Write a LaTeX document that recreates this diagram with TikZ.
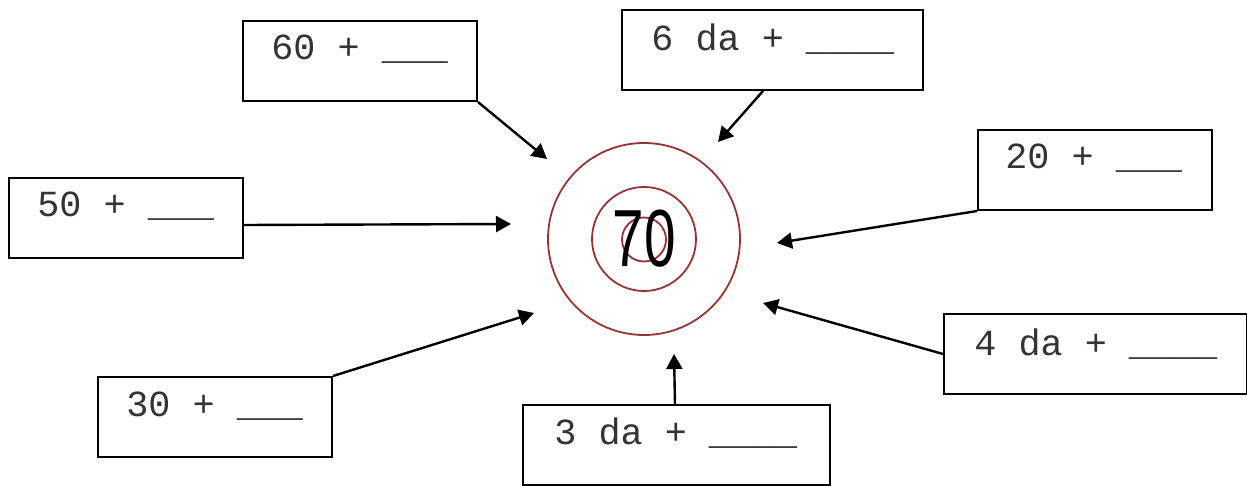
\documentclass[tikz,border=0pt]{standalone}
\usepackage{fontspec}
\setmainfont{Liberation Sans}
\newfontfamily\boxfont{Liberation Mono}
\usetikzlibrary{arrows.meta}
\definecolor{ringred}{HTML}{993333}
\tikzset{
  box/.style={draw=black, line width=1pt, rectangle, inner sep=0pt, anchor=north west, minimum height=40pt},
  boxtext/.style={anchor=base west, inner sep=0pt, font=\boxfont\fontsize{18.4pt}{20pt}\selectfont, text=black!80},
  arr/.style={draw=black, line width=1.2pt, -{Triangle[length=7.5pt,width=8pt]}},
  ring/.style={draw=ringred, line width=0.9pt},
}
\begin{document}
\begin{tikzpicture}[x=0.5pt,y=-0.5pt]
\useasboundingbox (0,0) rectangle (1247,486);
% rings
\node[ring, circle, minimum size=96pt, inner sep=0pt] (outer) at (644,239) {};
\node[ring, circle, minimum size=52pt, inner sep=0pt] (middle) at (644,239) {};
\node[ring, circle, minimum size=22pt, inner sep=0pt] (inner) at (644,239.5) {};
\node[inner sep=0pt, xscale=0.7, font=\fontsize{40.5pt}{44pt}\selectfont] (num) at (644,239) {70};
% boxes
\node[box, minimum width=117pt] (A) at (242,20) {};
\node[box, minimum width=150.5pt] (B) at (621,9) {};
\node[box, minimum width=117pt] (C) at (977,129) {};
\node[box, minimum width=117pt] (D) at (8,177) {};
\node[box, minimum width=151.5pt] (E) at (943,313) {};
\node[box, minimum width=117pt] (F) at (97,376) {};
\node[box, minimum width=153.5pt] (G) at (522,404) {};
% texts
\node[boxtext] (tA) at ([shift={(29,40)}]A.north west) {60 + \_\_\_};
\node[boxtext] (tB) at ([shift={(30,42)}]B.north west) {6 da + \_\_\_\_};
\node[boxtext] (tC) at ([shift={(28,40)}]C.north west) {20 + \_\_\_};
\node[boxtext] (tD) at ([shift={(29,40)}]D.north west) {50 + \_\_\_};
\node[boxtext] (tE) at ([shift={(31,42)}]E.north west) {4 da + \_\_\_\_};
\node[boxtext] (tF) at ([shift={(29,40)}]F.north west) {30 + \_\_\_};
\node[boxtext] (tG) at ([shift={(32,40)}]G.north west) {3 da + \_\_\_\_};
% arrow tips
\coordinate (eA) at (547,159);
\coordinate (eB) at (718,142);
\coordinate (eC) at (777,243);
\coordinate (eD) at (511,224);
\coordinate (eE) at (763,303);
\coordinate (eF) at (534,313);
\coordinate (eG) at (674,354);
\draw[arr] (A.south east) -- (eA);
\draw[arr] ([xshift=142*0.5pt]B.south west) -- (eB);
\draw[arr] (C.south west) -- (eC);
\draw[arr] ([yshift=-3.5pt]D.east) -- (eD);
\draw[arr] (E.west) -- (eE);
\draw[arr] (F.north east) -- (eF);
\draw[arr] ([xshift=-0.75pt]G.north) -- (eG);
\end{tikzpicture}
\end{document}
